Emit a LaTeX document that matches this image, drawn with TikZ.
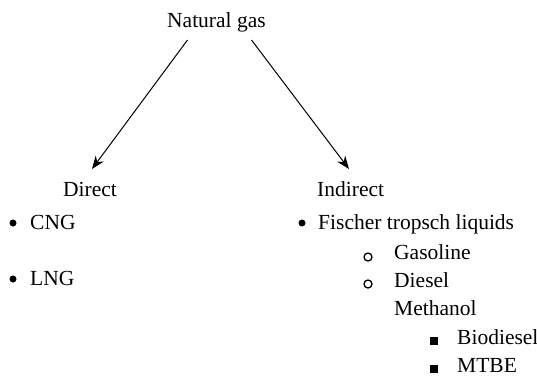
\documentclass[tikz,border=0pt]{standalone}
\usepackage{fontspec}
\setmainfont{Liberation Serif}
\usetikzlibrary{arrows.meta}
\begin{document}
\begin{tikzpicture}[x=1pt,y=-1pt,
  lbl/.style={anchor=base west,inner sep=0pt,font=\fontsize{21.5}{24}\selectfont},
  dot/.style={circle,fill=black,inner sep=0pt,minimum size=7pt},
  ring/.style={circle,draw=black,line width=1.3pt,inner sep=0pt,minimum size=8pt},
  sq/.style={rectangle,fill=black,inner sep=0pt,minimum size=8pt},
  arr/.style={line width=1pt,-{Stealth[length=13pt,width=10pt]}}]
\useasboundingbox (0,0) rectangle (537,376);
\node[lbl] (ng) at (167,27) {Natural gas};
\node[lbl] (direct) at (63,196) {Direct};
\node[lbl] (indirect) at (317,196) {Indirect};
\node[dot] (b1) at (13,223) {};
\node[lbl] (cng) at (30,229) {CNG};
\node[dot] (b2) at (13,279) {};
\node[lbl] (lng) at (30,285) {LNG};
\node[dot] (b3) at (302,223) {};
\node[lbl] (ft) at (318,229) {Fischer tropsch liquids};
\node[ring] (c1) at (368,257) {};
\node[lbl] (gas) at (394,259) {Gasoline};
\node[ring] (c2) at (368,284) {};
\node[lbl] (dsl) at (394,287) {Diesel};
\node[lbl] (meth) at (394,315) {Methanol};
\node[sq] (s1) at (434,341) {};
\node[lbl] (bio) at (457,344) {Biodiesel};
\node[sq] (s2) at (434,369) {};
\node[lbl] (mtbe) at (457,372) {MTBE};
\coordinate (ngL) at (187.5,40);
\coordinate (ngR) at (251.5,40);
\coordinate (dirT) at (92,169);
\coordinate (indT) at (349,169);
\draw[arr] (ngL) -- (dirT);
\draw[arr] (ngR) -- (indT);
\end{tikzpicture}
\end{document}
